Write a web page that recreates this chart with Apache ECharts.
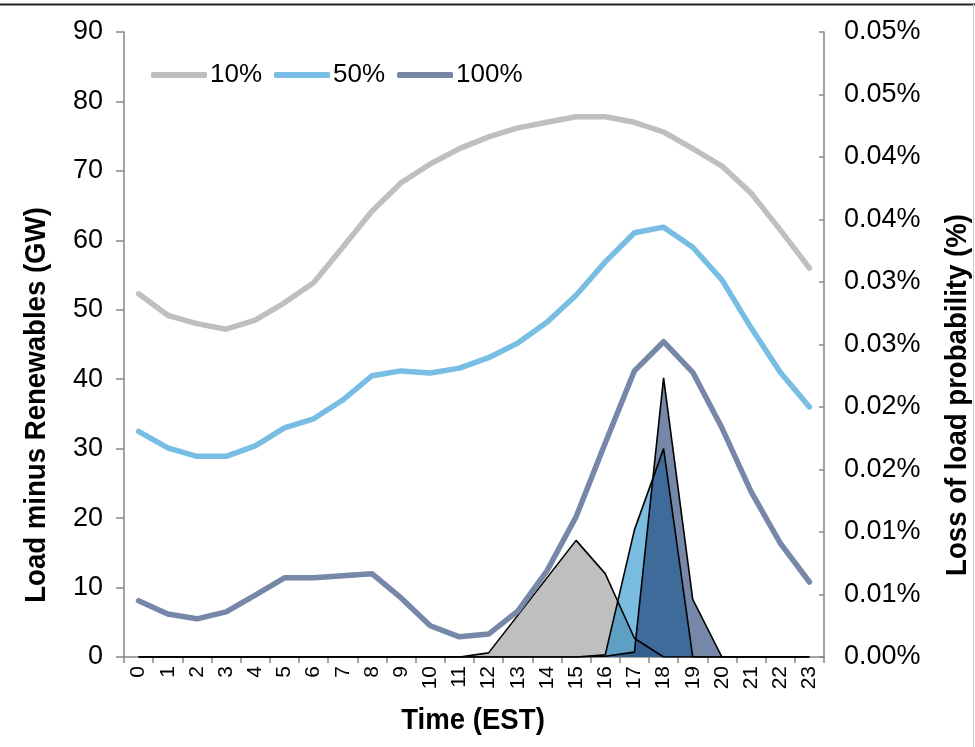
<!DOCTYPE html>
<html>
<head>
<meta charset="utf-8">
<script src="https://cdn.jsdelivr.net/npm/echarts@6/dist/echarts.min.js"></script>
<style>
html,body{margin:0;padding:0;background:#fff;}
#chart{width:975px;height:747px;}
</style>
</head>
<body>
<div id="chart"></div>
<script>
// ---- data ----
var hours = ['0','1','2','3','4','5','6','7','8','9','10','11','12','13','14','15','16','17','18','19','20','21','22','23'];
// Load minus renewables (GW)
var load10 = [52.3,49.2,48.0,47.2,48.5,51.0,53.9,59.0,64.2,68.3,71.0,73.2,74.9,76.2,77.0,77.8,77.8,77.0,75.6,73.2,70.7,66.8,61.5,56.0];
var load50 = [32.5,30.1,28.9,28.9,30.4,33.0,34.3,37.0,40.5,41.2,40.9,41.6,43.1,45.2,48.2,52.1,56.9,61.1,61.9,59.0,54.3,47.4,41.0,36.0];
var load100 = [8.1,6.2,5.5,6.5,8.9,11.4,11.4,11.7,12.0,8.5,4.5,2.9,3.3,6.6,12.4,20.2,30.8,41.2,45.4,41.0,33.0,23.8,16.4,10.8];
// Loss of load probability (%)
var lolp10 = [0,0,0,0,0,0,0,0,0,0,0,0,0.00033,0.00333,0.00633,0.00933,0.00667,0.0015,0,0,0,0,0,0];
var lolp50 = [0,0,0,0,0,0,0,0,0,0,0,0,0,0,0,0,0.00017,0.01017,0.01667,0,0,0,0,0];
var lolp100 = [0,0,0,0,0,0,0,0,0,0,0,0,0,0,0,0,0.00006,0.00039,0.02233,0.00461,0,0,0,0];
var leftTicks = [0,10,20,30,40,50,60,70,80,90];
var rightTickLabels = ['0.00%','0.01%','0.01%','0.02%','0.02%','0.03%','0.03%','0.04%','0.04%','0.05%','0.05%'];
var seriesNames = ['10%','50%','100%'];
var xTitle = 'Time (EST)';
var yLeftTitle = 'Load minus Renewables (GW)';
var yRightTitle = 'Loss of load probability (%)';

var lineColors = ['#bfbfbf','#78bde3','#7787a8'];
var areaColors = ['#bfbfbf','rgba(21,139,200,0.57)','rgba(21,48,105,0.58)'];
var FONT = 'Liberation Sans, Arial, sans-serif';

var chart = echarts.init(document.getElementById('chart'), null, {renderer:'canvas'});

var areaData = [lolp10, lolp50, lolp100];
var lineData = [load10, load50, load100];
var series = [];
for (var i = 0; i < 3; i++) {
  series.push({
    name: 'area' + seriesNames[i],
    type: 'line',
    yAxisIndex: 1,
    data: areaData[i],
    symbol: 'none',
    silent: true,
    lineStyle: {color: '#000', width: 1.6},
    itemStyle: {color: areaColors[i]},
    areaStyle: {color: areaColors[i], opacity: 1},
    animation: false
  });
}
for (var j = 0; j < 3; j++) {
  series.push({
    name: seriesNames[j],
    type: 'line',
    yAxisIndex: 0,
    data: lineData[j],
    symbol: 'none',
    lineStyle: {color: lineColors[j], width: 5.5, cap: 'round', join: 'round'},
    itemStyle: {color: lineColors[j]},
    animation: false
  });
}

var titleStyle = {fontFamily: FONT, fontWeight: 'bold', fontSize: 30, fill: '#000', textAlign: 'center', textVerticalAlign: 'middle'};

chart.setOption({
  backgroundColor: '#fff',
  animation: false,
  grid: {left: 124, right: 151, top: 32, bottom: 90, containLabel: false},
  legend: {
    data: seriesNames,
    left: 146, top: 57,
    icon: 'roundRect',
    itemWidth: 56, itemHeight: 6,
    itemGap: 12,
    textStyle: {fontFamily: FONT, fontSize: 26, color: '#000', padding: [0,0,0,-2]}
  },
  xAxis: {
    type: 'category',
    data: hours,
    boundaryGap: true,
    axisLine: {lineStyle: {color: '#868686', width: 1.5}},
    axisTick: {show: true, length: 6, lineStyle: {color: '#868686', width: 1.5}},
    axisLabel: {rotate: 90, fontFamily: FONT, fontSize: 21, color: '#000', margin: 9},
    splitLine: {show: false}
  },
  yAxis: [{
    type: 'value',
    min: leftTicks[0], max: leftTicks[leftTicks.length-1], interval: 10,
    axisLine: {show: true, lineStyle: {color: '#868686', width: 1.5}},
    axisTick: {show: true, length: 8, lineStyle: {color: '#868686', width: 1.5}},
    axisLabel: {fontFamily: FONT, fontSize: 27, color: '#000', margin: 21},
    splitLine: {show: false}
  }, {
    type: 'value',
    position: 'right',
    min: 0, max: 0.05, interval: 0.005,
    axisLine: {show: true, lineStyle: {color: '#868686', width: 1.5}},
    axisTick: {show: true, inside: true, length: 5, lineStyle: {color: '#868686', width: 1.5}},
    axisLabel: {
      fontFamily: FONT, fontSize: 27, color: '#000', margin: 20,
      formatter: function (v) { return rightTickLabels[Math.round(v / 0.005)]; }
    },
    splitLine: {show: false}
  }],
  graphic: [
    {type: 'line', shape: {x1: 0, y1: 4.5, x2: 975, y2: 4.5}, style: {stroke: '#222', lineWidth: 2}, silent: true},
    {type: 'line', shape: {x1: 973.5, y1: 4, x2: 973.5, y2: 747}, style: {stroke: '#c8c8c8', lineWidth: 1}, silent: true},
    {type: 'text', x: 473, y: 721, scaleX: 0.92, style: Object.assign({text: xTitle}, titleStyle), silent: true},
    {type: 'text', x: 37, y: 405, rotation: Math.PI / 2, scaleX: 0.92, style: Object.assign({text: yLeftTitle}, titleStyle), silent: true},
    {type: 'text', x: 958, y: 395, rotation: Math.PI / 2, scaleX: 0.92, style: Object.assign({text: yRightTitle}, titleStyle), silent: true}
  ],
  series: series
});
</script>
</body>
</html>
